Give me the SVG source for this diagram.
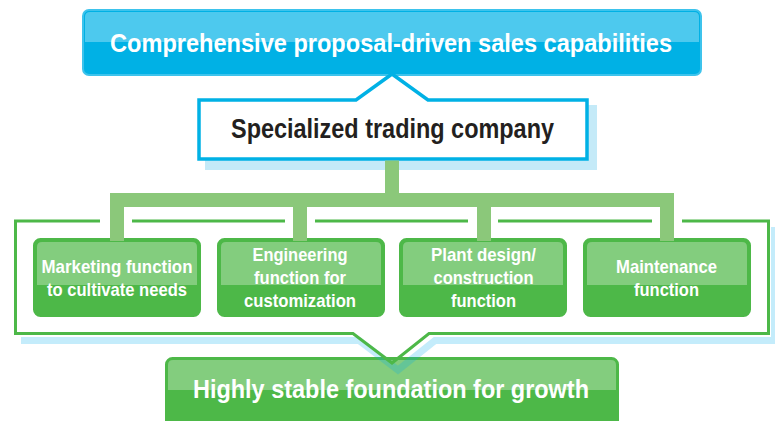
<svg xmlns="http://www.w3.org/2000/svg" width="775" height="421" viewBox="0 0 775 421">
<style>
text{font-family:"Liberation Sans",Arial,sans-serif;font-weight:bold;text-anchor:middle;}
.wt{fill:#ffffff;}
.fn{font-size:18.5px;}
.gbox{fill:#4DB848;stroke:#4DB848;stroke-width:3;}
.gband{fill:#83CD7E;}
.conn{fill:none;stroke:#8BC87A;stroke-width:14;stroke-linejoin:miter;stroke-linecap:butt;}
</style>
<rect width="775" height="421" fill="#ffffff"/>

<g id="top-box">
  <rect x="83" y="10" width="618" height="65" rx="6" fill="#00B1E5" stroke="#3DC3EC" stroke-width="2"/>
  <path d="M85 42 V17 Q85 12 90 12 H694 Q699 12 699 17 V42 Z" fill="#4DC9EE"/>
  <text class="wt" x="391" y="52" font-size="26.5" textLength="562" lengthAdjust="spacingAndGlyphs">Comprehensive proposal-driven sales capabilities</text>
</g>

<g id="trading-company">
  <rect x="205" y="105" width="392" height="65" fill="#C4EAF8"/>
  <path d="M199 100 H356 L392 74 L428 100 H587 V159 H199 Z" fill="#ffffff" stroke="#00B1E5" stroke-width="3.5"/>
  <text x="392.5" y="138" font-size="27.5" fill="#231F20" textLength="323" lengthAdjust="spacingAndGlyphs">Specialized trading company</text>
</g>

<g id="foundation">
  <rect x="166.5" y="358.5" width="451" height="72" rx="6" class="gbox"/>
  <path d="M168 390 V365 Q168 360 173 360 H611 Q616 360 616 365 V390 Z" class="gband"/>
  <text class="wt" x="391" y="398" font-size="25.5" textLength="396" lengthAdjust="spacingAndGlyphs">Highly stable foundation for growth</text>
</g>

<g id="frame">
  <path d="M774.5 227 V340.5 H435 L398 370 L359 340.5 H21" fill="none" stroke="#00AEEF" stroke-opacity="0.23" stroke-width="7" stroke-linejoin="miter"/>
  <path d="M100 221 H15.5 V333.5 H353 L392 363 L429 333.5 H768.5 V221 H682 M132 221 H285 M315 221 H468 M498 221 H652" fill="none" stroke="#4DB848" stroke-width="3"/>
</g>

<g id="marketing">
  <rect x="34.5" y="239.5" width="165" height="76" rx="6" class="gbox"/>
  <path d="M37 285 V247 Q37 242 42 242 H192 Q197 242 197 247 V285 Z" class="gband"/>
  <text class="wt fn" x="117" y="273" textLength="151" lengthAdjust="spacingAndGlyphs">Marketing function</text>
  <text class="wt fn" x="117" y="295.5" textLength="140" lengthAdjust="spacingAndGlyphs">to cultivate needs</text>
</g>

<g id="engineering">
  <rect x="218.5" y="239.5" width="165" height="76" rx="6" class="gbox"/>
  <path d="M221 285 V247 Q221 242 226 242 H376 Q381 242 381 247 V285 Z" class="gband"/>
  <text class="wt fn" x="300" y="261" textLength="95" lengthAdjust="spacingAndGlyphs">Engineering</text>
  <text class="wt fn" x="300" y="284" textLength="92" lengthAdjust="spacingAndGlyphs">function for</text>
  <text class="wt fn" x="300" y="306.5" textLength="112" lengthAdjust="spacingAndGlyphs">customization</text>
</g>

<g id="plant-design">
  <rect x="400.5" y="239.5" width="165" height="76" rx="6" class="gbox"/>
  <path d="M403 285 V247 Q403 242 408 242 H558 Q563 242 563 247 V285 Z" class="gband"/>
  <text class="wt fn" x="483.5" y="261" textLength="105" lengthAdjust="spacingAndGlyphs">Plant design/</text>
  <text class="wt fn" x="483.5" y="284" textLength="100" lengthAdjust="spacingAndGlyphs">construction</text>
  <text class="wt fn" x="483.5" y="306.5" textLength="65" lengthAdjust="spacingAndGlyphs">function</text>
</g>

<g id="maintenance">
  <rect x="584.5" y="239.5" width="165" height="76" rx="6" class="gbox"/>
  <path d="M587 285 V247 Q587 242 592 242 H742 Q747 242 747 247 V285 Z" class="gband"/>
  <text class="wt fn" x="666.5" y="273" textLength="101" lengthAdjust="spacingAndGlyphs">Maintenance</text>
  <text class="wt fn" x="666.5" y="295.5" textLength="65" lengthAdjust="spacingAndGlyphs">function</text>
</g>

<g id="connectors">
  <path class="conn" d="M392 160.5 V200 M117 241 V200 H667 V241 M300 200 V241 M484 200 V241"/>
</g>
</svg>
